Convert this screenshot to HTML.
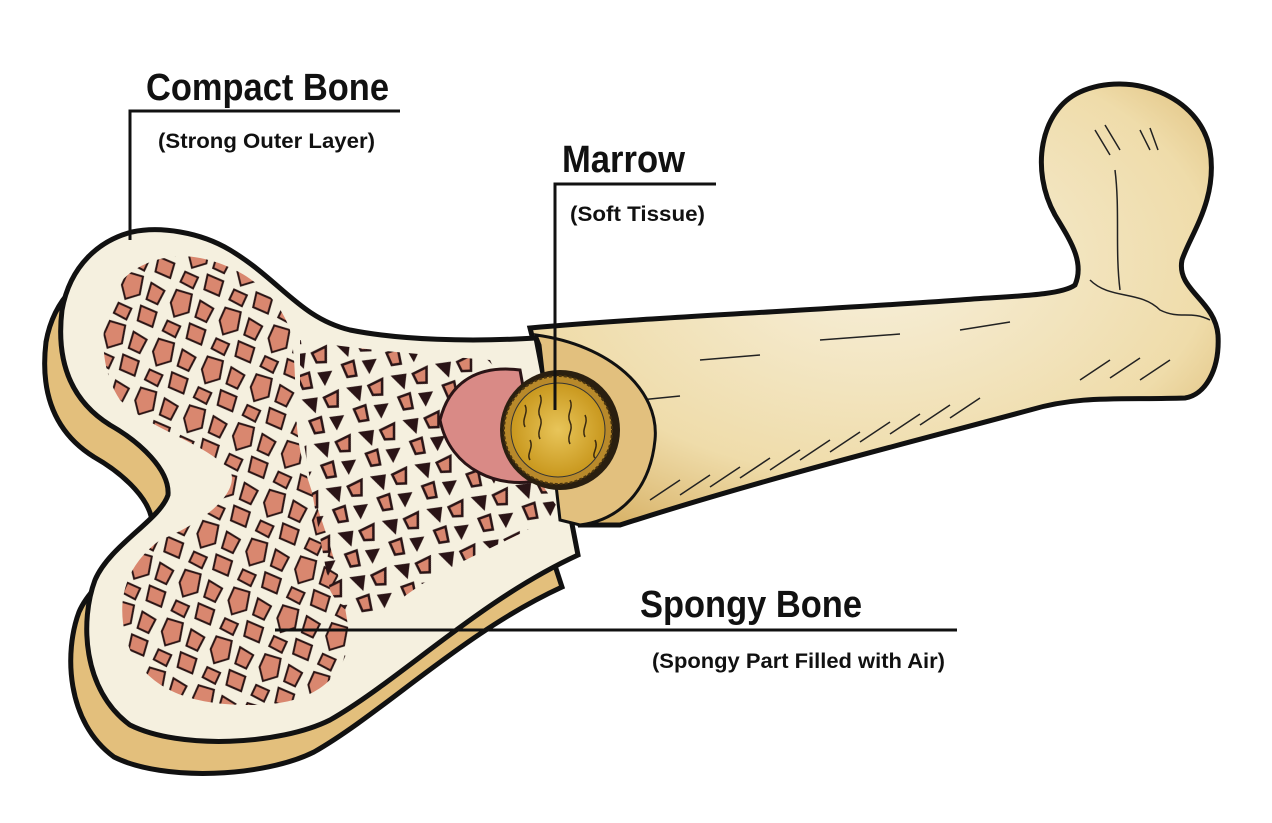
<!DOCTYPE html>
<html><head><meta charset="utf-8"><style>
html,body{margin:0;padding:0;background:#fff;}
svg{display:block}
.t{font-family:"Liberation Sans",sans-serif;font-weight:bold;fill:#111}
.s{font-family:"Liberation Sans",sans-serif;fill:#111;font-weight:bold}
</style></head><body>
<svg width="1272" height="823" viewBox="0 0 1272 823" xmlns="http://www.w3.org/2000/svg">
<defs>
<pattern id="pink" width="52" height="52" patternUnits="userSpaceOnUse" patternTransform="rotate(20)">
<path d="M5 4 L21 3 L24 21 L12 30 L4 18 Z" fill="#d9876f" stroke="#2a1414" stroke-width="2"/>
<path d="M31 6 L46 9 L44 24 L32 23 Z" fill="#d9876f" stroke="#2a1414" stroke-width="2"/>
<path d="M7 36 L21 37 L20 49 L6 47 Z" fill="#d9876f" stroke="#2a1414" stroke-width="2"/>
<path d="M29 31 L46 32 L47 47 L31 46 Z" fill="#d9876f" stroke="#2a1414" stroke-width="2"/>
</pattern>
<pattern id="dark" width="46" height="46" patternUnits="userSpaceOnUse" patternTransform="rotate(-15)">
<path d="M4 4 L20 6 L14 21 Z" fill="#2a1416"/>
<path d="M26 8 L41 5 L37 20 L28 18 Z" fill="#d9876f" stroke="#2a1416" stroke-width="2.5"/>
<path d="M6 27 L18 26 L17 41 L8 40 Z" fill="#d9876f" stroke="#2a1416" stroke-width="2.5"/>
<path d="M26 28 L41 30 L30 43 Z" fill="#2a1416"/>
</pattern>
<radialGradient id="shaftg" cx="0.5" cy="0.4" r="0.7">
<stop offset="0" stop-color="#f7f0dc"/><stop offset="0.7" stop-color="#efdcaa"/><stop offset="1" stop-color="#d9b46a"/>
</radialGradient>
<radialGradient id="mar" cx="0.5" cy="0.5" r="0.5">
<stop offset="0" stop-color="#e8c55a"/><stop offset="1" stop-color="#c9981e"/>
</radialGradient>
</defs>

<!-- shaft + head -->
<path d="M530 328 C640 318 820 310 960 300 C1010 296 1060 296 1075 285 C1085 262 1070 240 1055 215 C1030 170 1040 110 1080 92 C1130 70 1200 95 1210 150 C1218 200 1190 235 1182 260 C1176 290 1215 300 1218 335 C1220 370 1205 395 1185 398 C1120 400 1080 395 1030 410 C900 445 760 480 620 525 L580 525 Z" fill="url(#shaftg)" stroke="#111" stroke-width="5"/>
<g stroke="#222" stroke-width="1.5" fill="none">
<path d="M1095 130 l15 25 M1105 125 l15 25 M1140 130 l10 20 M1150 128 l8 22 M1115 170 c5 40 0 80 5 120 M1090 280 c20 20 50 10 70 30 c20 10 30 0 50 10"/>
<path d="M700 360 l60 -5 M820 340 l80 -6 M640 400 l40 -4 M960 330 l50 -8"/>
<path d="M650 500 l30 -20 M680 495 l30 -20 M710 487 l30 -20 M740 478 l30 -20 M770 470 l30 -20 M800 460 l30 -20 M830 452 l30 -20 M860 442 l30 -20 M890 434 l30 -20 M920 425 l30 -20 M950 418 l30 -20 M1080 380 l30 -20 M1110 378 l30 -20 M1140 380 l30 -20"/>
</g>

<!-- shadow thickness: face shifted -->
<path transform="translate(-16,32)" d="M132 232 C100 240 70 265 62 310 C56 360 70 400 110 425 C140 442 170 470 168 495 C160 520 110 545 95 580 C80 620 82 690 130 725 C180 750 280 745 330 720 C400 680 480 600 578 555 L560 500 L536 338 C470 342 400 340 350 330 C300 318 280 280 230 250 C200 232 160 226 132 232 Z" fill="#e3bf7c" stroke="#111" stroke-width="5"/>

<!-- face -->
<path d="M132 232 C100 240 70 265 62 310 C56 360 70 400 110 425 C140 442 170 470 168 495 C160 520 110 545 95 580 C80 620 82 690 130 725 C180 750 280 745 330 720 C400 680 480 600 578 555 L536 338 C470 342 400 340 350 330 C300 318 280 280 230 250 C200 232 160 226 132 232 Z" fill="#f5f0df" stroke="#111" stroke-width="5"/>

<!-- spongy regions -->
<path d="M110 300 C120 270 160 250 200 258 C250 268 280 300 290 330 C300 380 290 420 305 470 C320 520 340 560 350 640 C340 690 300 705 250 705 C190 705 150 690 130 650 C115 610 120 570 160 540 C210 520 240 490 230 470 C200 440 150 430 120 400 C100 370 100 330 110 300 Z" fill="url(#pink)"/>
<path d="M300 340 C360 350 430 355 490 360 C510 400 520 460 560 510 C520 540 450 560 400 600 C370 625 345 620 330 590 C320 540 310 480 300 420 Z" fill="url(#dark)"/>
<path d="M440 420 C450 380 480 365 520 370 L540 480 C500 490 450 470 440 420 Z" fill="#d98a86" stroke="#2a1416" stroke-width="3"/>

<!-- cut ring -->
<path d="M536 335 C610 345 660 390 655 440 C650 490 620 520 580 525 L560 520 L540 345 Z" fill="#e2c07e" stroke="#111" stroke-width="3"/>
<circle cx="560" cy="430" r="60" fill="#2a1f10"/>
<circle cx="558" cy="430" r="54" fill="#b8892a" stroke="#4a3510" stroke-width="2" stroke-dasharray="3 2"/>
<circle cx="558" cy="430" r="47" fill="url(#mar)" stroke="#333" stroke-width="1"/>
<g stroke="#3a2a10" stroke-width="1.5" fill="none">
<path d="M525 405 c4 8 -4 14 0 22 M540 395 c4 8 -4 14 0 22 c4 8 -4 14 0 22 M570 400 c4 8 -4 14 0 22 c4 8 -4 14 0 22 M585 415 c4 8 -4 14 0 22 M530 440 c4 8 -4 14 0 20 M595 440 c4 8 -4 14 0 18"/>
</g>

<!-- leader lines -->
<path d="M130 240 L130 111 L400 111" stroke="#111" stroke-width="3" fill="none"/>
<path d="M555 410 L555 184 L716 184" stroke="#111" stroke-width="3" fill="none"/>
<path d="M275 630 L957 630" stroke="#111" stroke-width="3" fill="none"/>

<!-- labels -->
<text class="t" x="146" y="100" font-size="38" textLength="243" lengthAdjust="spacingAndGlyphs">Compact Bone</text>
<text class="s" x="158" y="148" font-size="21" textLength="217" lengthAdjust="spacingAndGlyphs">(Strong Outer Layer)</text>
<text class="t" x="562" y="172" font-size="38" textLength="123" lengthAdjust="spacingAndGlyphs">Marrow</text>
<text class="s" x="570" y="221" font-size="21" textLength="135" lengthAdjust="spacingAndGlyphs">(Soft Tissue)</text>
<text class="t" x="640" y="617" font-size="38" textLength="222" lengthAdjust="spacingAndGlyphs">Spongy Bone</text>
<text class="s" x="652" y="668" font-size="21" textLength="293" lengthAdjust="spacingAndGlyphs">(Spongy Part Filled with Air)</text>
</svg>
</body></html>
